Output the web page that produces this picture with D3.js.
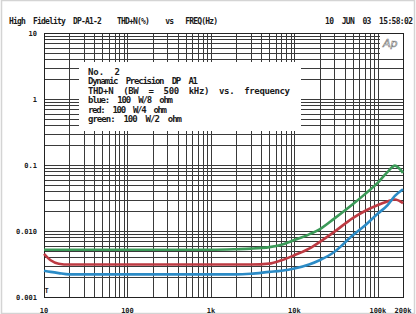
<!DOCTYPE html>
<html>
<head>
<meta charset="utf-8">
<script src="https://cdn.jsdelivr.net/npm/d3@7"></script>
<style>
  body { margin: 0; background: #fff; }
  svg { display: block; }
  text { font-family: "DejaVu Sans Mono", monospace; font-weight: bold; fill: #1a1a1a; }
</style>
</head>
<body>
<script>
// - THD+N vs frequency (Audio Precision style) -

// Data
var freq   = [10, 12, 15, 20, 30, 50, 100, 200, 500, 1000, 2000, 3000, 5000, 7000,
              10000, 15000, 20000, 30000, 50000, 70000, 100000, 130000, 160000, 200000];
var green2 = [0.0052, 0.0052, 0.0052, 0.0052, 0.0052, 0.0052, 0.0052, 0.0052, 0.0052, 0.0052,
              0.0053, 0.0054, 0.0057, 0.0062, 0.0073, 0.0089, 0.0106, 0.0154, 0.0254, 0.0362,
              0.054, 0.078, 0.098, 0.076];
var red4   = [0.0045, 0.0036, 0.0032, 0.0031, 0.0031, 0.0031, 0.0031, 0.0031, 0.0031, 0.0031,
              0.0031, 0.0031, 0.0032, 0.0036, 0.0043, 0.0054, 0.0068, 0.0097, 0.0157, 0.0201,
              0.0248, 0.028, 0.030, 0.0265];
var blue8  = [0.0025, 0.0024, 0.0023, 0.0022, 0.0022, 0.0022, 0.0022, 0.0022, 0.0022, 0.0022,
              0.0022, 0.00225, 0.0024, 0.0025, 0.0027, 0.0031, 0.0036, 0.0048, 0.0086, 0.0121,
              0.0184, 0.0245, 0.034, 0.043];

var xTickValues = [10, 100, 1000, 10000, 100000, 200000];
var xTickLabels = ["10", "100", "1k", "10k", "100k", "200k"];
var yTickValues = [10, 1, 0.1, 0.01, 0.001];
var yTickLabels = ["10", "1", "0.1", "0.010", "0.001"];

var legendLines = ["No.  2",
                   "Dynamic  Precision  DP  A1",
                   "THD+N  (BW  =  500  kHz)  vs.  frequency",
                   "blue:  100  W/8  ohm",
                   "red:  100  W/4  ohm",
                   "green:  100  W/2  ohm"];

// Chart size
const w = 416,
      h = 314,
      pLeft = 44, pRight = 403, pTop = 33, pBottom = 297;

const svg = d3.select("body")
              .append("svg")
              .attr("width", w)
              .attr("height", h);

// page edge
svg.append("rect")
   .attr("x", 1.5).attr("y", 0.5)
   .attr("width", w - 3).attr("height", h - 1)
   .attr("fill", "none")
   .attr("stroke", "#d4d4d4")
   .attr("stroke-width", 1.5);

// Scales
var x = d3.scaleLog().domain([10, 200000]).range([pLeft, pRight]);
var y = d3.scaleLog().domain([0.001, 10]).range([pBottom, pTop]);

// Grid
var grid = svg.append("g")
              .attr("stroke", "#3a3a3a")
              .attr("stroke-width", 1)
              .attr("shape-rendering", "crispEdges");

grid.selectAll("line.v")
    .data(x.ticks())
    .enter()
    .append("line")
    .attr("class", "v")
    .attr("x1", d => Math.round(x(d)) + 0.5)
    .attr("x2", d => Math.round(x(d)) + 0.5)
    .attr("y1", pTop)
    .attr("y2", pBottom);

grid.selectAll("line.h")
    .data(y.ticks())
    .enter()
    .append("line")
    .attr("class", "h")
    .attr("y1", d => Math.round(y(d)) + 0.5)
    .attr("y2", d => Math.round(y(d)) + 0.5)
    .attr("x1", pLeft)
    .attr("x2", pRight);

// Frame
svg.append("rect")
   .attr("x", pLeft + 0.5).attr("y", pTop + 0.5)
   .attr("width", pRight - pLeft).attr("height", pBottom - pTop)
   .attr("fill", "none")
   .attr("stroke", "#222")
   .attr("stroke-width", 1);

// Curves
var line = d3.line()
             .x((d, i) => x(freq[i]))
             .y(d => y(d))
             .curve(d3.curveMonotoneX);

var series = [
  { name: "green", values: green2, color: "#3b9a58" },
  { name: "red",   values: red4,   color: "#bd3a42" },
  { name: "blue",  values: blue8,  color: "#2b8bc6" }
];

svg.selectAll("path.curve")
   .data(series)
   .enter()
   .append("path")
   .attr("class", "curve")
   .attr("d", d => line(d.values))
   .attr("fill", "none")
   .attr("stroke", d => d.color)
   .attr("stroke-width", 2.6)
   .attr("stroke-linejoin", "round");

// Legend box
svg.append("rect")
   .attr("x", 79).attr("y", 62)
   .attr("width", 222).attr("height", 69)
   .attr("fill", "#fff");

var legendWidths = [32, 110, 202, 85, 79, 94];

svg.selectAll("text.legend")
   .data(legendLines)
   .enter()
   .append("text")
   .attr("class", "legend")
   .attr("x", 88)
   .attr("y", (d, i) => 74.5 + i * 9.5)
   .attr("font-size", "9px")
   .attr("textLength", (d, i) => legendWidths[i])
   .attr("lengthAdjust", "spacing")
   .style("white-space", "pre")
   .text(d => d);

// Ap logo
svg.append("rect")
   .attr("x", 380).attr("y", pTop + 1)
   .attr("width", pRight - 380).attr("height", 20)
   .attr("fill", "#fff");

svg.append("text")
   .attr("x", 383)
   .attr("y", 47)
   .attr("font-size", "11px")
   .style("font-family", "'DejaVu Sans', sans-serif")
   .style("font-weight", "normal")
   .style("font-style", "italic")
   .style("fill", "#fff")
   .style("stroke", "#777")
   .style("stroke-width", 0.6)
   .text("Ap");

// Header
svg.append("text")
   .attr("x", 9).attr("y", 24)
   .attr("font-size", "8px")
   .attr("textLength", 209)
   .attr("lengthAdjust", "spacing")
   .style("white-space", "pre")
   .text("High  Fidelity  DP-A1-2    THD+N(%)    vs   FREQ(Hz)");

svg.append("text")
   .attr("x", 325).attr("y", 24)
   .attr("font-size", "8px")
   .attr("textLength", 88)
   .attr("lengthAdjust", "spacing")
   .style("white-space", "pre")
   .text("10  JUN  03  15:58:02");

// Axis labels
svg.selectAll("text.xlab")
   .data(xTickValues)
   .enter()
   .append("text")
   .attr("class", "xlab")
   .attr("x", d => x(d))
   .attr("y", 313)
   .attr("text-anchor", "middle")
   .attr("font-size", "7px")
   .text((d, i) => xTickLabels[i]);

svg.selectAll("text.ylab")
   .data(yTickValues)
   .enter()
   .append("text")
   .attr("class", "ylab")
   .attr("x", 37)
   .attr("y", d => y(d) + 2.5)
   .attr("text-anchor", "end")
   .attr("font-size", "7px")
   .text((d, i) => yTickLabels[i]);

// little T marker
svg.append("text")
   .attr("x", 44.5)
   .attr("y", 293)
   .attr("font-size", "7px")
   .text("T");
</script>
</body>
</html>
